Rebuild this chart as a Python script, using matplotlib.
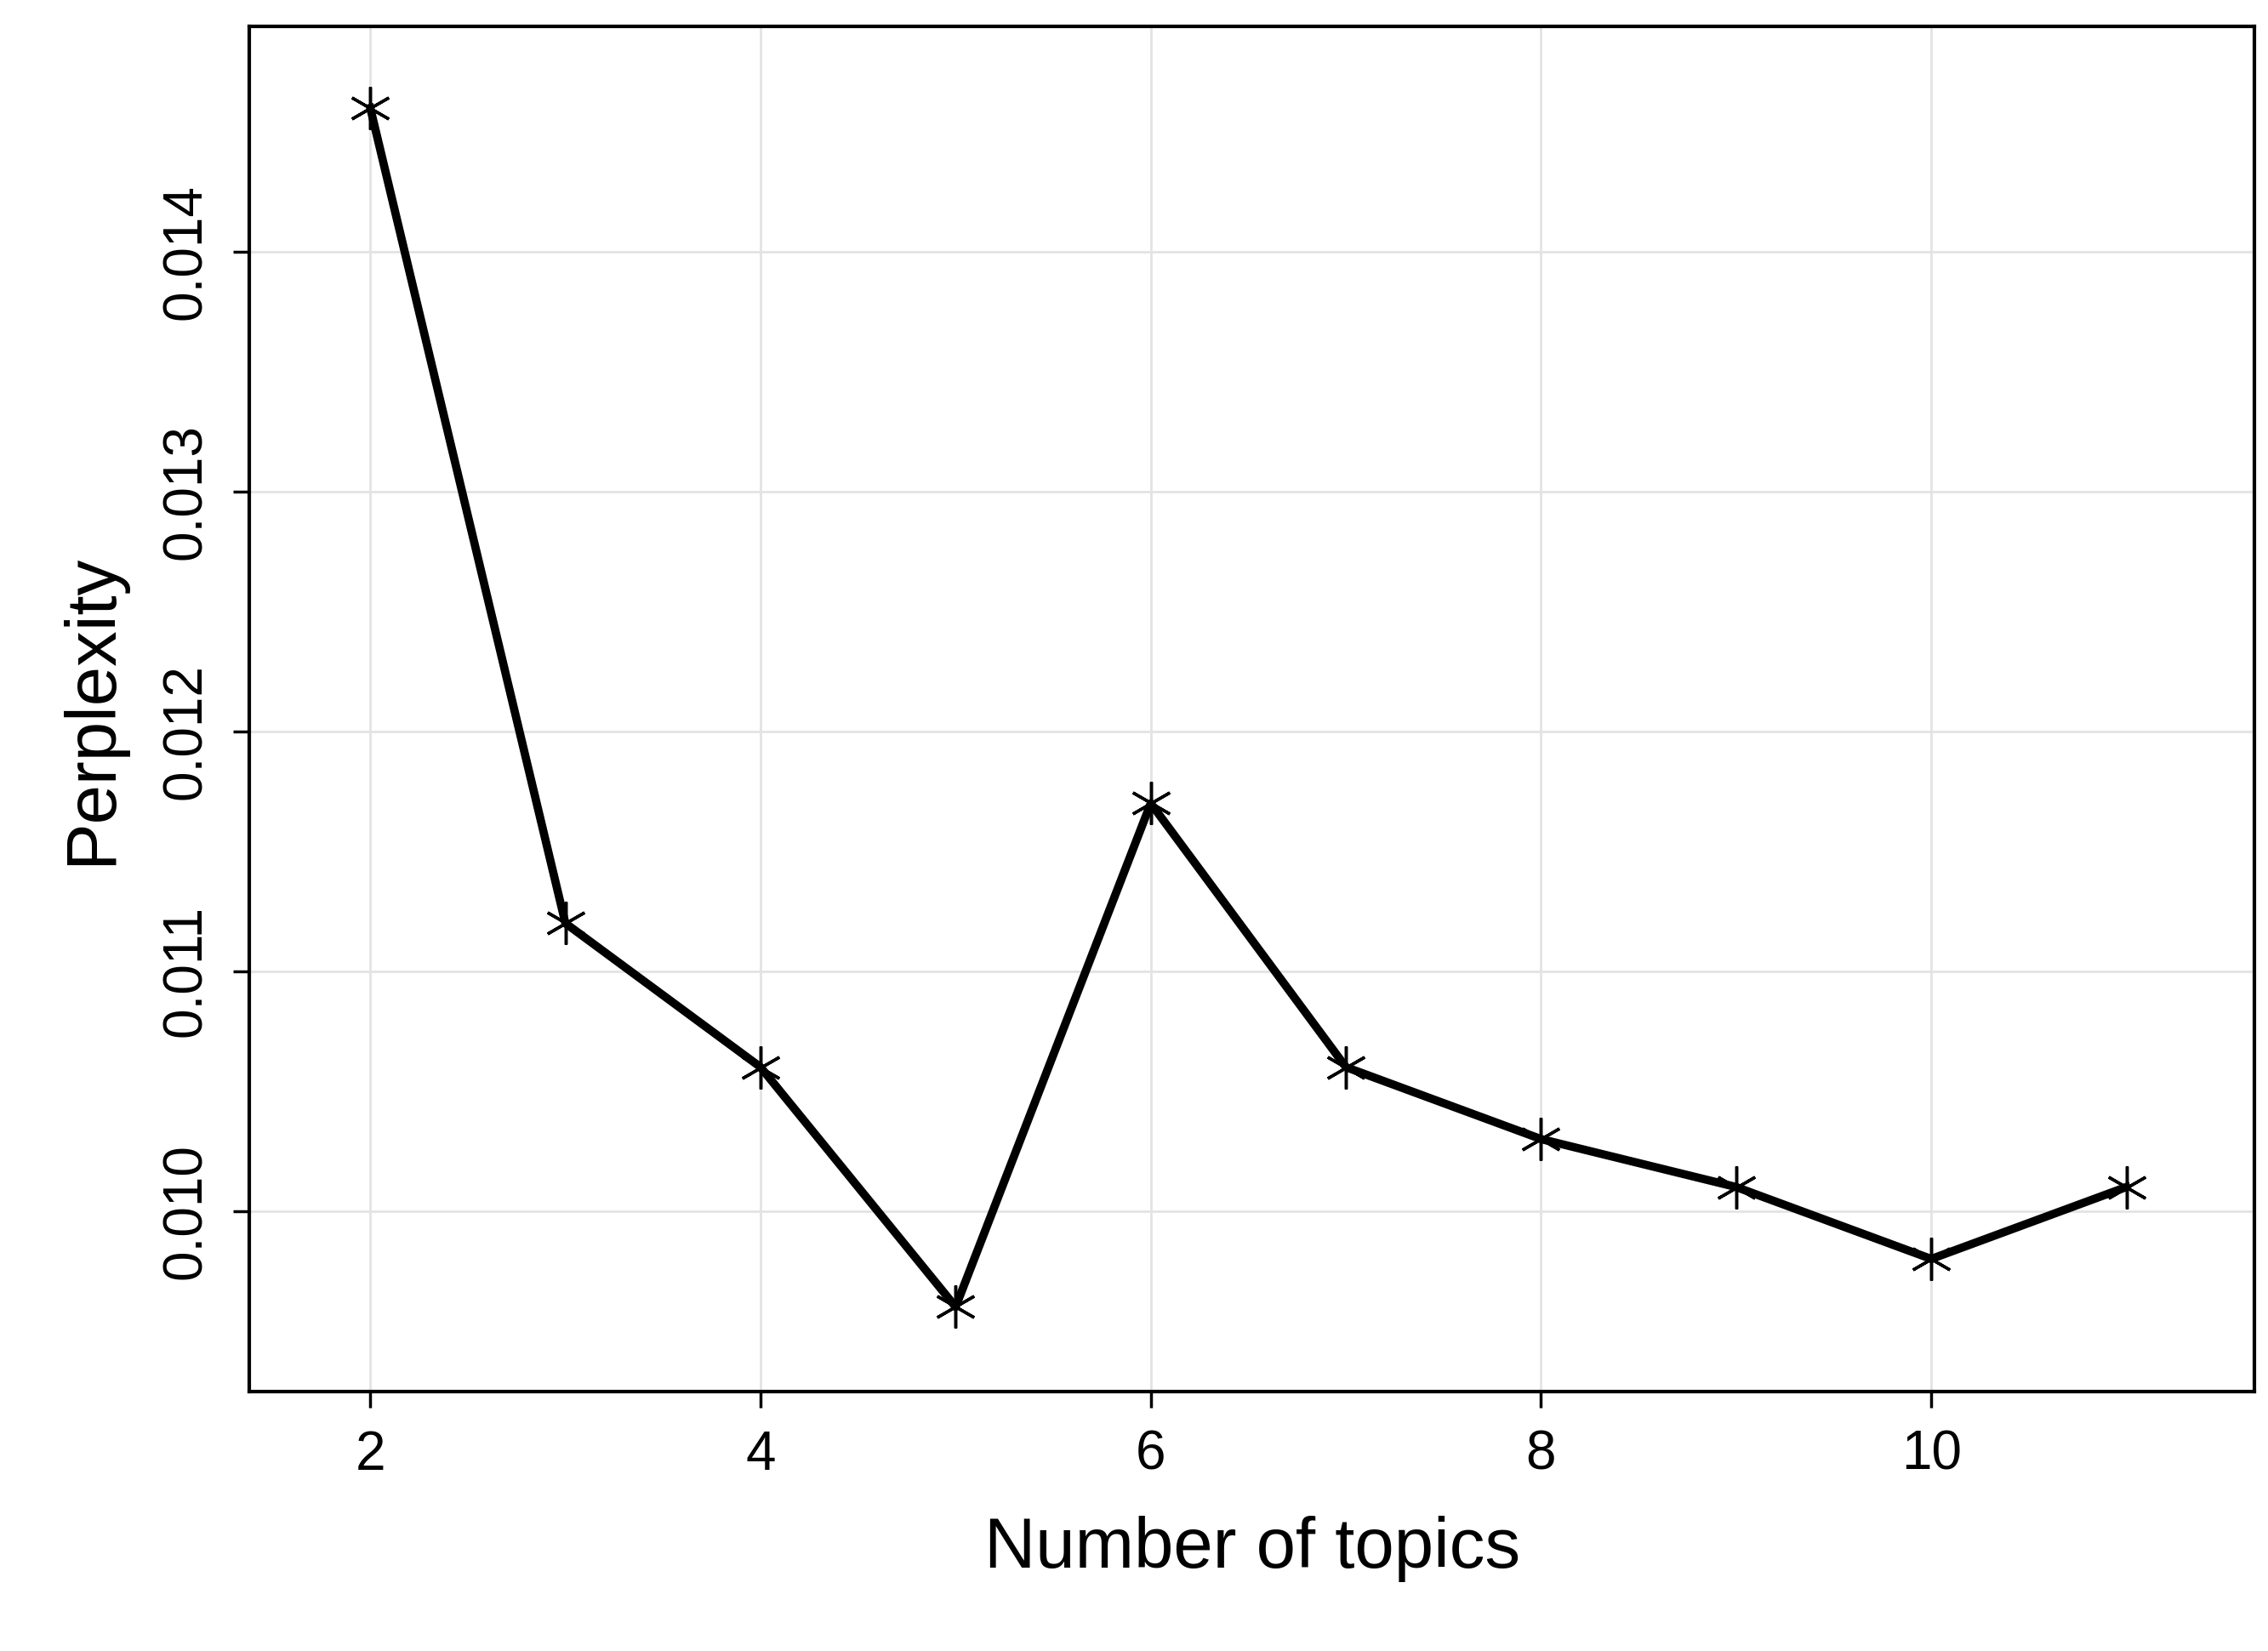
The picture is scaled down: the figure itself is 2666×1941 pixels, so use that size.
import matplotlib
matplotlib.use("Agg")
import matplotlib.pyplot as plt

topics = [2, 3, 4, 5, 6, 7, 8, 9, 10, 11]
perplexity = [0.0146, 0.0112, 0.0106, 0.0096, 0.0117, 0.0106, 0.0103, 0.0101, 0.0098, 0.0101]
xticks = [2, 4, 6, 8, 10]
yticks = [0.010, 0.011, 0.012, 0.013, 0.014]
ytick_labels = ["0.010", "0.011", "0.012", "0.013", "0.014"]

plt.rcParams['font.family'] = ['Liberation Sans', 'DejaVu Sans']
fig = plt.figure(figsize=(26.66, 19.41), dpi=100)
ax = fig.add_axes([0.110, 0.157, 0.884, 0.827])
ax.plot(topics, perplexity, color='black', lw=7, marker=(6, 2, 0), ms=36, mew=2.5)
ax.set_xlim(1.381, 11.656)
ax.set_ylim(0.009246, 0.01494)
ax.set_xticks(xticks)
ax.set_yticks(yticks)
ax.set_yticklabels(ytick_labels, rotation=90, va='center')
ax.grid(True, color='#e3e3e3', lw=2)
ax.set_axisbelow(True)
ax.tick_params(labelsize=46, length=14, width=2.5, pad=18)
for s in ax.spines.values():
    s.set_linewidth(3)
ax.set_xlabel("Number of topics", fontsize=60, labelpad=30)
ax.set_ylabel("Perplexity", fontsize=60, labelpad=30)
fig.savefig("out.png", dpi=100)
